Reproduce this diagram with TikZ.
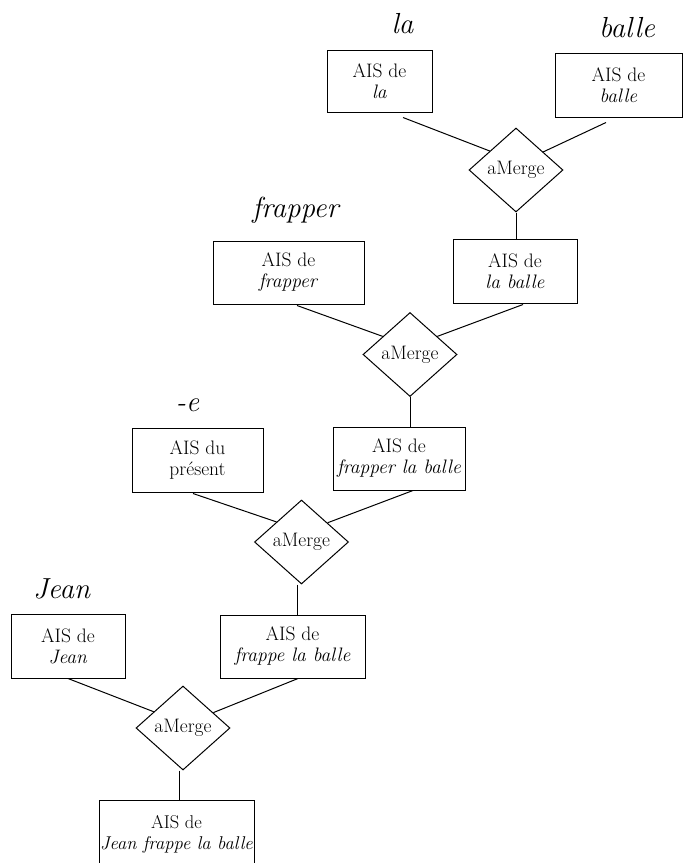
\documentclass[tikz,border=0pt]{standalone}
\usetikzlibrary{shapes.geometric,calc}
\begin{document}
\begin{tikzpicture}[x=1pt,y=-1pt,
 box/.style={draw,line width=1pt,inner sep=0pt,align=center,font=\fontsize{19.5}{21}\selectfont},
 merge/.style={draw,diamond,line width=1pt,inner sep=0pt,minimum width=94pt,minimum height=84pt,font=\fontsize{19.5}{21}\selectfont},
 lab/.style={font=\fontsize{29}{31}\selectfont\itshape,inner sep=0pt,anchor=base},
 link/.style={line width=1pt}]
\useasboundingbox (0,0) rectangle (683,863);
\clip (0,0) rectangle (683,863);
% boxes and merges
\node[box,minimum width=105pt,minimum height=62pt] (bla) at (379.5,81) {AIS de\\\textit{la}};
\node[box,minimum width=127pt,minimum height=64pt] (bballe) at (618.5,85) {AIS de\\\textit{balle}};
\node[merge] (d1) at (516,170) {aMerge};
\node[box,minimum width=151pt,minimum height=63pt] (bfrapper) at (288.5,272.5) {AIS de\\\textit{frapper}};
\node[box,minimum width=124pt,minimum height=64pt] (blaballe) at (515,271) {AIS de\\\textit{la balle}};
\node[merge] (d2) at (410,354.5) {aMerge};
\node[box,minimum width=131pt,minimum height=64pt] (bpresent) at (197.5,460) {AIS du\\présent};
\node[box,minimum width=132pt,minimum height=63pt] (bflb) at (399,458.5) {AIS de\\\textit{frapper la balle}};
\node[merge] (d3) at (301.5,542) {aMerge};
\node[box,minimum width=114pt,minimum height=64pt] (bjean) at (68,646) {AIS de\\\textit{Jean}};
\node[box,minimum width=145pt,minimum height=63pt] (bfrappe) at (292.5,646.5) {AIS de\\\textit{frappe la balle}};
\node[merge] (d4) at (183,728) {aMerge};
\node[box,minimum width=155pt,minimum height=68pt,font=\fontsize{18.5}{21}\selectfont] (bfinal) at (176.5,834) {AIS de\\\textit{Jean frappe la balle}};
% labels
\node[lab] (lla) at (402.5,33) {la};
\node[lab] (lballe) at (627,37) {balle};
\node[lab] (lfrapper) at (295.5,217) {frapper};
\node[lab] (le) at (187.5,411) {-e};
\node[lab] (ljean) at (61.5,598) {Jean};
% links
\draw[link] ($(bla.south)+(23.5,5)$) -- ($(d1.west)!0.447!(d1.north)$);
\draw[link] ($(bballe.south)+(-12.5,5)$) -- ($(d1.north)!0.574!(d1.east)$);
\draw[link] (d1.south) -- (d1.south |- blaballe.north);
\draw[link] ($(bfrapper.south)+(8.5,1)$) -- ($(d2.west)!0.426!(d2.north)$);
\draw[link] ($(blaballe.south)+(8,1)$) -- ($(d2.north)!0.574!(d2.east)$);
\draw[link] (d2.south) -- (d2.south |- bflb.north);
\draw[link] ($(bpresent.south)+(-4.5,1)$) -- ($(d3.west)!0.473!(d3.north)$);
\draw[link] ($(bflb.south)+(14,0)$) -- ($(d3.north)!0.548!(d3.east)$);
\coordinate (c3) at ($(d3.south)+(-4.5,0)$);
\draw[link] (c3) -- (c3 |- bfrappe.north);
\draw[link] (bjean.south) -- ($(d4.west)!0.383!(d4.north)$);
\draw[link] ($(bfrappe.south)+(5.5,0)$) -- ($(d4.north)!0.638!(d4.east)$);
\coordinate (c4) at ($(d4.south)+(-4,0)$);
\draw[link] (c4) -- (c4 |- bfinal.north);
\end{tikzpicture}
\end{document}
